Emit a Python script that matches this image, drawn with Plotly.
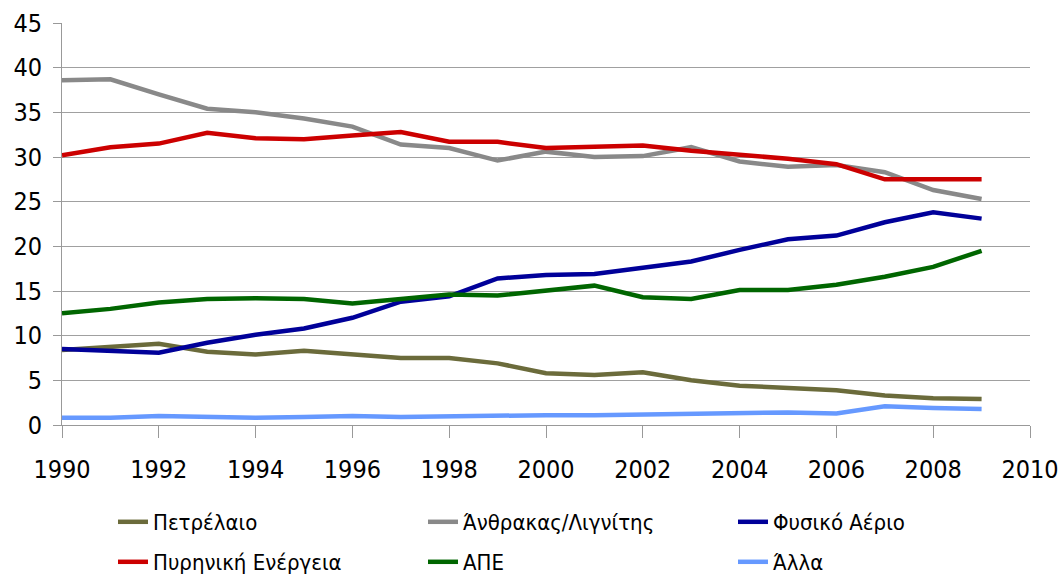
import plotly.graph_objects as go

years = list(range(1990, 2010))

petrelaio = [8.4, 8.8, 9.1, 8.2, 7.9, 8.3, 7.9, 7.5, 7.5, 6.9, 5.8, 5.6, 5.9, 5.0, 4.4, 4.2, 3.9, 3.3, 3.0, 2.9]
anthrakas = [38.6, 38.7, 37.0, 35.4, 35.0, 34.3, 33.4, 31.4, 31.0, 29.6, 30.6, 30.0, 30.1, 31.1, 29.5, 28.9, 29.1, 28.3, 26.3, 25.3]
fysiko = [8.5, 8.3, 8.1, 9.2, 10.1, 10.8, 12.0, 13.8, 14.4, 16.4, 16.8, 16.9, 17.6, 18.3, 19.6, 20.8, 21.2, 22.7, 23.8, 23.1]
pyrhniki = [30.2, 31.1, 31.5, 32.7, 32.1, 32.0, 32.4, 32.8, 31.7, 31.7, 31.0, 31.2, 31.3, 30.7, 30.3, 29.8, 29.2, 27.5, 27.5, 27.5]
ape = [12.5, 13.0, 13.7, 14.1, 14.2, 14.1, 13.6, 14.1, 14.6, 14.5, 15.0, 15.6, 14.3, 14.1, 15.1, 15.1, 15.7, 16.6, 17.7, 19.5]
alla = [0.8, 0.8, 1.0, 0.9, 0.8, 0.9, 1.0, 0.9, 1.0, 1.1, 1.1, 1.1, 1.2, 1.2, 1.3, 1.4, 1.3, 2.1, 1.9, 1.8]

names = ["Πετρέλαιο", "Άνθρακας/Λιγνίτης", "Φυσικό Αέριο",
         "Πυρηνική Ενέργεια", "ΑΠΕ", "Άλλα"]
values = [petrelaio, anthrakas, fysiko, pyrhniki, ape, alla]
colors = ["#6B6B3B", "#898989", "#000099", "#CC0000", "#006600", "#6699FF"]

x_ticks = list(range(1990, 2011, 2))
y_ticks = list(range(0, 46, 5))

font_family = "DejaVu Sans Condensed, Liberation Sans Narrow, sans-serif"

W, H = 1061, 579
# legend slot positions (container pixels): columns and rows
col_px = [113, 423, 733]
row_px = [522, 562]

fig = go.Figure()
legend_layouts = {}
for i, (name, vals, color) in enumerate(zip(names, values, colors)):
    key = "legend" if i == 0 else f"legend{i + 1}"
    fig.add_trace(go.Scatter(x=years, y=vals, mode="lines", name=name,
                             line=dict(color=color, width=4.5), legend=key))
    col, row = i % 3, i // 3
    legend_layouts[key] = dict(
        orientation="h", xref="container", yref="container",
        x=col_px[col] / W, xanchor="left",
        y=1 - row_px[row] / H, yanchor="middle",
        font=dict(size=22, family=font_family, color="black"),
        bgcolor="rgba(0,0,0,0)")

fig.update_layout(
    template="none",
    width=W, height=H,
    margin=dict(l=62, r=31, t=23, b=154, autoexpand=False),
    plot_bgcolor="white", paper_bgcolor="white",
    font=dict(family=font_family, color="black"),
    showlegend=True,
    **legend_layouts,
)
fig.update_xaxes(range=[1990, 2010], tickvals=x_ticks, showgrid=False,
                 showline=True, linecolor="#999999", linewidth=1,
                 ticks="outside", ticklen=12, tickcolor="#999999",
                 tickfont=dict(size=25, color="black"), zeroline=False,
                 automargin=False, ticklabelstandoff=10)
fig.update_yaxes(range=[0, 45], tickvals=y_ticks, showgrid=True,
                 gridcolor="#A0A0A0", gridwidth=1,
                 showline=True, linecolor="#999999", linewidth=1,
                 ticks="outside", ticklen=8, tickcolor="#999999",
                 tickfont=dict(size=25, color="black"), zeroline=False,
                 automargin=False, ticklabelstandoff=6)

fig.write_html("out.html",
               config={"displayModeBar": False},
               post_script="document.body.style.margin='0';document.body.style.overflow='hidden';")
